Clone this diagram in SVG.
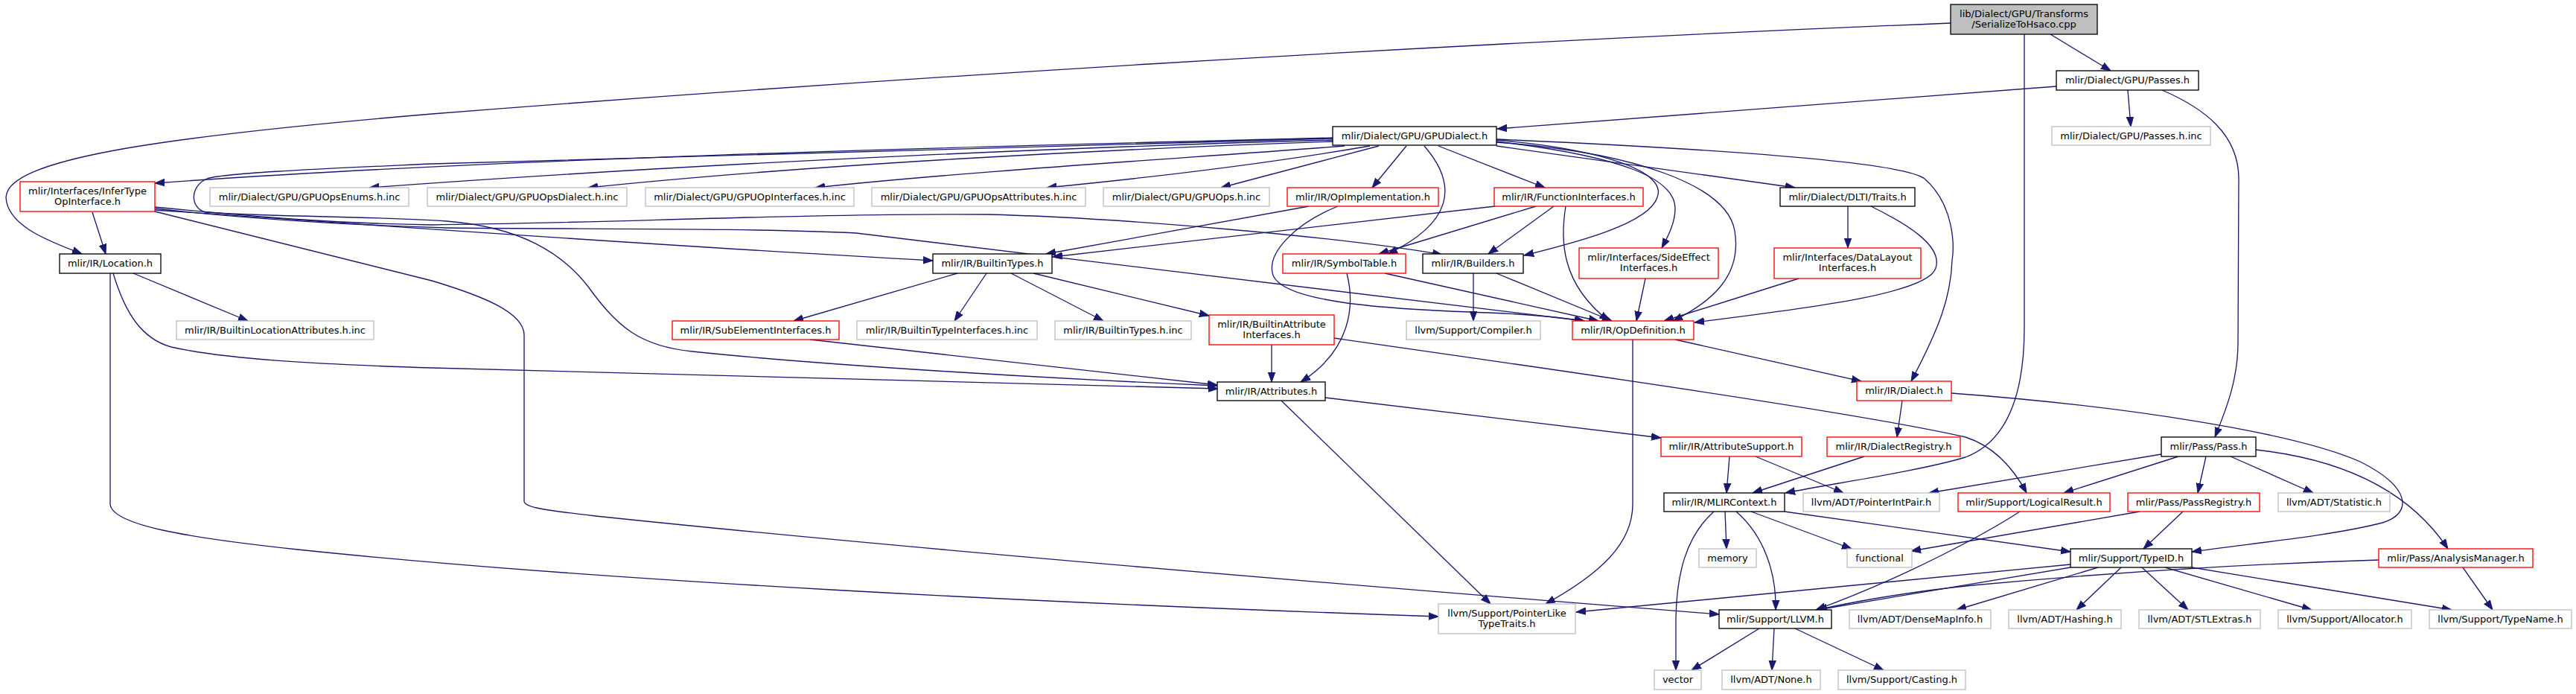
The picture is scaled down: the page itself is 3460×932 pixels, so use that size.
<svg xmlns="http://www.w3.org/2000/svg" width="3460" height="932" viewBox="0 0 3460 932">
<style>
.e path{fill:none;stroke:#191970;stroke-width:1.33;marker-end:url(#ah)}
.nd rect{fill:#fff;stroke:#000;stroke-width:1.33}
.rd rect{fill:#fff;stroke:#f00;stroke-width:1.33}
.gr rect{fill:#fff;stroke:#bfbfbf;stroke-width:1.33}
.rt rect{fill:#bfbfbf;stroke:#000;stroke-width:1.33}
text{font-family:"DejaVu Sans","Liberation Sans",sans-serif;font-size:13px;text-anchor:middle;fill:#000}
</style>
<defs>
<marker id="ah" markerUnits="userSpaceOnUse" markerWidth="14" markerHeight="11" viewBox="0 0 14 11" refX="13" refY="5.5" orient="auto">
<path d="M0,0.8 L13,5.5 L0,10.2 Z" fill="#191970" stroke="#191970" stroke-width="1"/>
</marker>
</defs>
<rect width="3460" height="932" fill="#fff"/>
<g id="edges" class="e">
<path d="M2620,31 C1900,60 1150,108 580,153 C200,185 10,215 8,265 C10,305 70,325 110,341"/>
<path d="M2754,46 L2835,95"/>
<path d="M2719,46 L2719,440 C2719,540 2690,595 2640,614 C2580,632 2470,648 2398,662"/>
<path d="M2762,116 L2011,173"/>
<path d="M2858,121 L2862,170"/>
<path d="M2904,121 C2960,145 3007,180 3007,240 L3006,460 C3006,510 2990,550 2975,587"/>
<path d="M1790,185 C1400,195 700,210 208,246"/>
<path d="M1790,186 C1400,197 900,211 580,220 C450,226 300,232 278,240 C255,250 255,278 275,285 C380,292 500,290 600,297 C700,305 755,340 790,385 C830,440 860,465 930,472 C1100,490 1400,508 1635,518"/>
<path d="M1790,188 C1500,196 1000,215 496,252"/>
<path d="M1790,190 C1500,200 1100,220 790,252"/>
<path d="M1806,196 C1600,212 1300,230 1095,252"/>
<path d="M1840,196 C1700,220 1550,238 1406,252"/>
<path d="M1852,196 C1780,215 1700,236 1640,252"/>
<path d="M1889,196 L1843,252"/>
<path d="M1913,196 C1960,250 1950,300 1864,341"/>
<path d="M1932,196 L2075,252"/>
<path d="M2010,188 C2150,200 2240,230 2226,265 C2215,300 2120,325 2047,343"/>
<path d="M2010,190 C2180,210 2250,240 2250,280 C2250,300 2240,318 2232,333"/>
<path d="M2010,196 L2411,252"/>
<path d="M2010,187 C2350,202 2560,220 2585,240 C2625,275 2625,330 2622,350 C2620,400 2605,440 2567,512"/>
<path d="M2010,191 C2200,205 2320,250 2330,310 C2340,370 2300,405 2247,431"/>
<path d="M2482,277 L2482,333"/>
<path d="M2513,277 C2560,300 2610,330 2600,360 C2590,395 2420,415 2276,433"/>
<path d="M2416,374 L2235,431"/>
<path d="M2210,374 L2198,431"/>
<path d="M2103,277 C2096,320 2095,380 2161,431"/>
<path d="M2063,277 L1852,341"/>
<path d="M2087,277 L1999,341"/>
<path d="M2008,277 L1414,345"/>
<path d="M1758,277 L1405,341"/>
<path d="M1797,277 C1740,300 1700,340 1710,370 C1725,405 1850,415 2000,420 C2060,422 2100,427 2128,431"/>
<path d="M1860,367 L2147,431"/>
<path d="M2010,367 L2165,431"/>
<path d="M1979,367 L1979,431"/>
<path d="M1809,367 C1820,410 1815,470 1747,513"/>
<path d="M2193,456 L2193,677 C2193,730 2150,770 2076,811"/>
<path d="M2250,456 L2500,512"/>
<path d="M2555,538 L2548,587"/>
<path d="M2621,528 C2850,545 3080,580 3170,620 C3240,655 3240,690 3200,702 C3130,720 3020,730 2944,741"/>
<path d="M2504,613 L2354,662"/>
<path d="M2323,613 L2319,662"/>
<path d="M2358,613 L2476,662"/>
<path d="M1780,534 L2231,588"/>
<path d="M1721,538 L2002,811"/>
<path d="M1708,463 L1708,513"/>
<path d="M1792,454 C2100,498 2500,555 2640,587 C2680,600 2705,630 2722,662"/>
<path d="M1088,456 L1635,517"/>
<path d="M152,367 C168,420 190,455 230,466 C300,482 420,489 580,494 L1636,522"/>
<path d="M148,367 L148,677 C150,705 250,722 400,738 C800,780 1400,810 1932,828"/>
<path d="M179,367 L333,431"/>
<path d="M124,285 L142,341"/>
<path d="M208,282 C400,295 800,325 1253,350"/>
<path d="M208,278 C350,292 450,300 580,302 C800,300 1100,286 1325,288 C1500,292 1800,318 1937,342"/>
<path d="M208,280 C350,296 500,303 600,306 C800,308 1000,306 1150,313 L2128,431"/>
<path d="M208,284 L580,377 C650,398 704,420 704,450 L704,673 C704,680 720,684 800,693 C1200,735 1800,785 2309,825"/>
<path d="M1286,367 L1066,431"/>
<path d="M1325,367 L1282,431"/>
<path d="M1358,367 L1482,431"/>
<path d="M1388,367 L1624,424"/>
<path d="M2903,610 L2591,662"/>
<path d="M2926,613 L2772,662"/>
<path d="M2963,613 L2952,662"/>
<path d="M2996,613 L3107,662"/>
<path d="M3030,604 C3130,615 3230,650 3288,737"/>
<path d="M2932,687 L2879,737"/>
<path d="M2874,687 L2567,740"/>
<path d="M2713,687 C2670,715 2560,775 2439,819"/>
<path d="M2317,687 L2319,737"/>
<path d="M2352,687 L2487,737"/>
<path d="M2397,687 L2781,741"/>
<path d="M2332,687 C2370,720 2386,770 2385,819"/>
<path d="M2302,687 C2265,720 2252,770 2251,830 L2251,900"/>
<path d="M2363,844 L2272,900"/>
<path d="M2383,844 L2380,900"/>
<path d="M2411,844 L2530,900"/>
<path d="M2781,758 L2117,822"/>
<path d="M2781,762 L2441,819"/>
<path d="M3195,752 C3000,758 2800,772 2650,786 C2560,795 2480,810 2441,819"/>
<path d="M2818,762 L2628,819"/>
<path d="M2849,762 L2789,819"/>
<path d="M2877,762 L2939,819"/>
<path d="M2908,762 L3105,819"/>
<path d="M2944,762 L3293,819"/>
<path d="M3308,762 L3348,819"/>
</g>
<g id="root" class="rt"><rect x="2620" y="6" width="197" height="40"/><text x="2718.5" y="23">lib/Dialect/GPU/Transforms</text><text x="2718.5" y="37">/SerializeToHsaco.cpp</text></g>
<g id="passes" class="nd"><rect x="2762" y="95" width="191" height="26"/><text x="2857.5" y="112">mlir/Dialect/GPU/Passes.h</text></g>
<g id="passesinc" class="gr"><rect x="2756" y="170" width="213" height="25"/><text x="2862.5" y="187">mlir/Dialect/GPU/Passes.h.inc</text></g>
<g id="gpudialect" class="nd"><rect x="1790" y="170" width="220" height="25"/><text x="1900" y="187">mlir/Dialect/GPU/GPUDialect.h</text></g>
<g id="location" class="nd"><rect x="80" y="341" width="136" height="26"/><text x="148" y="358">mlir/IR/Location.h</text></g>
<g id="infertype" class="rd"><rect x="27" y="244" width="181" height="40"/><text x="117.5" y="261">mlir/Interfaces/InferType</text><text x="117.5" y="275">OpInterface.h</text></g>
<g id="enums" class="gr"><rect x="282" y="252" width="267" height="25"/><text x="415.5" y="269">mlir/Dialect/GPU/GPUOpsEnums.h.inc</text></g>
<g id="dialectinc" class="gr"><rect x="574" y="252" width="268" height="25"/><text x="708" y="269">mlir/Dialect/GPU/GPUOpsDialect.h.inc</text></g>
<g id="opinterfaces" class="gr"><rect x="867" y="252" width="280" height="25"/><text x="1007" y="269">mlir/Dialect/GPU/GPUOpInterfaces.h.inc</text></g>
<g id="attributesinc" class="gr"><rect x="1171" y="252" width="287" height="25"/><text x="1314.5" y="269">mlir/Dialect/GPU/GPUOpsAttributes.h.inc</text></g>
<g id="opsinc" class="gr"><rect x="1482" y="252" width="223" height="25"/><text x="1593.5" y="269">mlir/Dialect/GPU/GPUOps.h.inc</text></g>
<g id="opimpl" class="rd"><rect x="1729" y="252" width="203" height="25"/><text x="1830.5" y="269">mlir/IR/OpImplementation.h</text></g>
<g id="funcif" class="rd"><rect x="2007" y="252" width="200" height="25"/><text x="2107" y="269">mlir/IR/FunctionInterfaces.h</text></g>
<g id="traits" class="nd"><rect x="2391" y="252" width="181" height="25"/><text x="2481.5" y="269">mlir/Dialect/DLTI/Traits.h</text></g>
<g id="builtintypes" class="nd"><rect x="1253" y="341" width="160" height="26"/><text x="1333" y="358">mlir/IR/BuiltinTypes.h</text></g>
<g id="symboltable" class="rd"><rect x="1723" y="341" width="165" height="26"/><text x="1805.5" y="358">mlir/IR/SymbolTable.h</text></g>
<g id="builders" class="nd"><rect x="1911" y="341" width="135" height="26"/><text x="1978.5" y="358">mlir/IR/Builders.h</text></g>
<g id="sideeffect" class="rd"><rect x="2121" y="333" width="187" height="41"/><text x="2214.5" y="350">mlir/Interfaces/SideEffect</text><text x="2214.5" y="364">Interfaces.h</text></g>
<g id="datalayout" class="rd"><rect x="2383" y="333" width="197" height="41"/><text x="2481.5" y="350">mlir/Interfaces/DataLayout</text><text x="2481.5" y="364">Interfaces.h</text></g>
<g id="locattrinc" class="gr"><rect x="237" y="431" width="265" height="25"/><text x="369.5" y="448">mlir/IR/BuiltinLocationAttributes.h.inc</text></g>
<g id="subelement" class="rd"><rect x="903" y="431" width="224" height="25"/><text x="1015" y="448">mlir/IR/SubElementInterfaces.h</text></g>
<g id="typeifinc" class="gr"><rect x="1151" y="431" width="242" height="25"/><text x="1272" y="448">mlir/IR/BuiltinTypeInterfaces.h.inc</text></g>
<g id="typesinc" class="gr"><rect x="1417" y="431" width="183" height="25"/><text x="1508.5" y="448">mlir/IR/BuiltinTypes.h.inc</text></g>
<g id="attrif" class="rd"><rect x="1624" y="423" width="168" height="40"/><text x="1708" y="440">mlir/IR/BuiltinAttribute</text><text x="1708" y="454">Interfaces.h</text></g>
<g id="compiler" class="gr"><rect x="1889" y="431" width="180" height="25"/><text x="1979" y="448">llvm/Support/Compiler.h</text></g>
<g id="opdef" class="rd"><rect x="2112" y="431" width="163" height="25"/><text x="2193.5" y="448">mlir/IR/OpDefinition.h</text></g>
<g id="attributes" class="nd"><rect x="1635" y="513" width="145" height="25"/><text x="1707.5" y="530">mlir/IR/Attributes.h</text></g>
<g id="dialect" class="rd"><rect x="2494" y="512" width="127" height="26"/><text x="2557.5" y="529">mlir/IR/Dialect.h</text></g>
<g id="attrsupport" class="rd"><rect x="2231" y="587" width="189" height="26"/><text x="2325.5" y="604">mlir/IR/AttributeSupport.h</text></g>
<g id="dialectreg" class="rd"><rect x="2454" y="587" width="179" height="26"/><text x="2543.5" y="604">mlir/IR/DialectRegistry.h</text></g>
<g id="pass" class="nd"><rect x="2903" y="587" width="127" height="26"/><text x="2966.5" y="604">mlir/Pass/Pass.h</text></g>
<g id="mlircontext" class="nd"><rect x="2235" y="662" width="162" height="25"/><text x="2316" y="679">mlir/IR/MLIRContext.h</text></g>
<g id="pointerintpair" class="gr"><rect x="2422" y="662" width="183" height="25"/><text x="2513.5" y="679">llvm/ADT/PointerIntPair.h</text></g>
<g id="logicalresult" class="rd"><rect x="2630" y="662" width="204" height="25"/><text x="2732" y="679">mlir/Support/LogicalResult.h</text></g>
<g id="passregistry" class="rd"><rect x="2858" y="662" width="177" height="25"/><text x="2946.5" y="679">mlir/Pass/PassRegistry.h</text></g>
<g id="statistic" class="gr"><rect x="3060" y="662" width="150" height="25"/><text x="3135" y="679">llvm/ADT/Statistic.h</text></g>
<g id="memory" class="gr"><rect x="2282" y="737" width="77" height="25"/><text x="2320.5" y="754">memory</text></g>
<g id="functional" class="gr"><rect x="2481" y="737" width="87" height="25"/><text x="2524.5" y="754">functional</text></g>
<g id="typeid" class="nd"><rect x="2781" y="737" width="163" height="25"/><text x="2862.5" y="754">mlir/Support/TypeID.h</text></g>
<g id="analysis" class="rd"><rect x="3195" y="737" width="207" height="25"/><text x="3298.5" y="754">mlir/Pass/AnalysisManager.h</text></g>
<g id="pointerlike" class="gr"><rect x="1932" y="811" width="184" height="40"/><text x="2024" y="828">llvm/Support/PointerLike</text><text x="2024" y="842">TypeTraits.h</text></g>
<g id="llvm" class="nd"><rect x="2309" y="819" width="151" height="25"/><text x="2384.5" y="836">mlir/Support/LLVM.h</text></g>
<g id="densemap" class="gr"><rect x="2484" y="819" width="190" height="25"/><text x="2579" y="836">llvm/ADT/DenseMapInfo.h</text></g>
<g id="hashing" class="gr"><rect x="2698" y="819" width="151" height="25"/><text x="2773.5" y="836">llvm/ADT/Hashing.h</text></g>
<g id="stlextras" class="gr"><rect x="2873" y="819" width="163" height="25"/><text x="2954.5" y="836">llvm/ADT/STLExtras.h</text></g>
<g id="allocator" class="gr"><rect x="3060" y="819" width="179" height="25"/><text x="3149.5" y="836">llvm/Support/Allocator.h</text></g>
<g id="typename" class="gr"><rect x="3263" y="819" width="191" height="25"/><text x="3358.5" y="836">llvm/Support/TypeName.h</text></g>
<g id="vector" class="gr"><rect x="2222" y="900" width="63" height="26"/><text x="2253.5" y="917">vector</text></g>
<g id="none" class="gr"><rect x="2313" y="900" width="132" height="26"/><text x="2379" y="917">llvm/ADT/None.h</text></g>
<g id="casting" class="gr"><rect x="2469" y="900" width="171" height="26"/><text x="2554.5" y="917">llvm/Support/Casting.h</text></g>
</svg>
